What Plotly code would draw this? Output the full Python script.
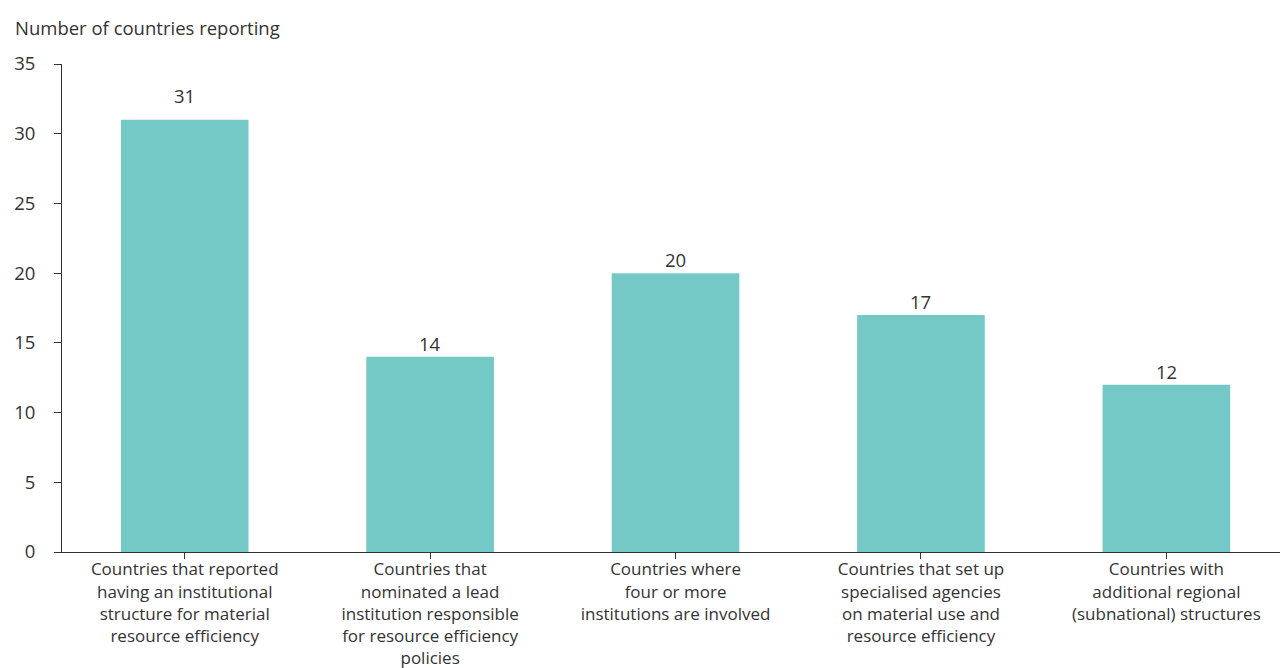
import plotly.graph_objects as go

# Category labels (wrapped) and counts
categories = [
    "Countries that reported<br>having an institutional<br>structure for material<br>resource efficiency",
    "Countries that<br>nominated a lead<br>institution responsible<br>for resource efficiency<br>policies",
    "Countries where<br>four or more<br>institutions are involved",
    "Countries that set up<br>specialised agencies<br>on material use and<br>resource efficiency",
    "Countries with<br>additional regional<br>(subnational) structures",
]
counts = [31, 14, 20, 17, 12]
y_ticks = [0, 5, 10, 15, 20, 25, 30, 35]

FONT = "Open Sans"
TEXT = "#333333"
BAR = "#74c9c6"
FS = 18.5
FS_CAT = 17

fig = go.Figure(
    go.Bar(
        x=list(range(len(categories))),
        y=counts,
        marker=dict(color=BAR, line=dict(width=0)),
        width=0.52,
        hoverinfo="skip",
    )
)

# value labels above each bar (the tallest one sits a little higher)
top = max(counts)
for i, v in enumerate(counts):
    fig.add_annotation(
        x=i, y=v, text=str(v), showarrow=False,
        xref="x", yref="y", yanchor="bottom",
        yshift=10 if v == top else -1,
        font=dict(family=FONT, size=FS, color=TEXT),
    )

# axis caption
fig.add_annotation(
    x=(13 - 62) / 1218, y=1 + (64 - 27) / 488,
    xref="x domain", yref="y domain", text="Number of countries reporting",
    showarrow=False, xanchor="left", yanchor="middle",
    font=dict(family=FONT, size=FS, color=TEXT),
)

fig.update_layout(
    width=1280, height=668,
    margin=dict(l=62, r=0, t=64, b=116),
    paper_bgcolor="white", plot_bgcolor="white",
    showlegend=False,
    font=dict(family=FONT, size=FS, color=TEXT),
)
fig.update_xaxes(
    tickmode="array", tickvals=list(range(len(categories))), ticktext=categories,
    range=[-0.5, 4.463], tickson="boundaries", automargin=False,
    ticks="outside", ticklen=6, tickcolor=TEXT, tickwidth=1,
    ticklabelstandoff=-4,
    showline=True, linecolor=TEXT, linewidth=1,
    showgrid=False, zeroline=False, tickangle=0,
    tickfont=dict(family=FONT, size=FS_CAT, color=TEXT),
)
fig.update_yaxes(
    range=[0, 35], tickvals=y_ticks, automargin=False,
    ticks="outside", ticklen=7, tickcolor=TEXT, tickwidth=1,
    ticklabelstandoff=15,
    showline=True, linecolor=TEXT, linewidth=1,
    showgrid=False, zeroline=False,
    tickfont=dict(family=FONT, size=FS, color=TEXT),
)

fig.write_html("out.html")
